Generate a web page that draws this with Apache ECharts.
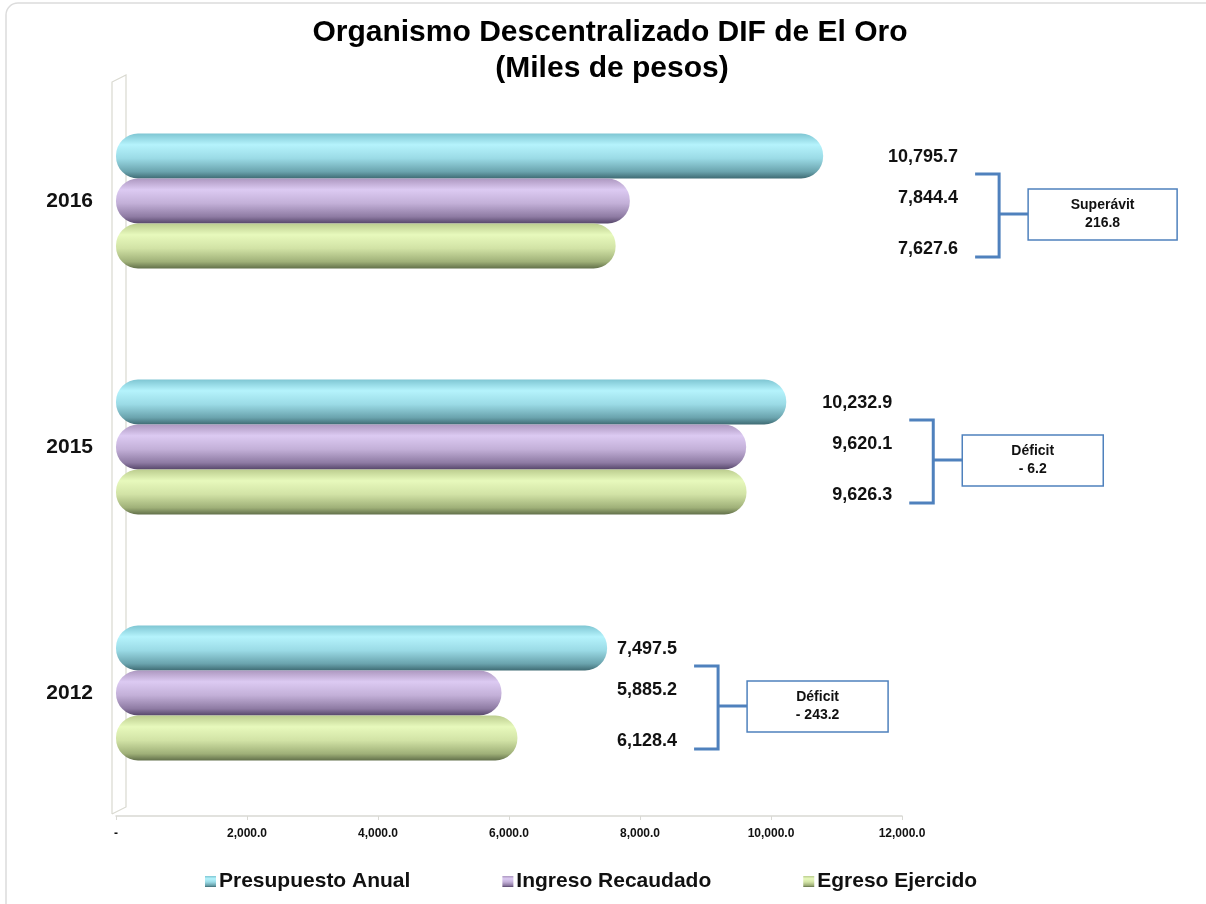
<!DOCTYPE html>
<html><head><meta charset="utf-8">
<script src="https://cdn.jsdelivr.net/npm/echarts@6/dist/echarts.min.js"></script>
<style>html,body{margin:0;padding:0;background:#fff}#c{width:1206px;height:904px}</style>
</head><body><div id="c"></div>
<script>
// ---- data ----
const categories = ['2012', '2015', '2016'];
const presupuestoAnual = [7497.5, 10232.9, 10795.7];
const ingresoRecaudado = [5885.2, 9620.1, 7844.4];
const egresoEjercido = [6128.4, 9626.3, 7627.6];
const seriesNames = ['Presupuesto Anual', 'Ingreso Recaudado', 'Egreso Ejercido'];
const titleLines = ['Organismo Descentralizado DIF de El Oro', '(Miles de pesos)'];
const axisMin = 0, axisMax = 12000, axisStep = 2000;

// ---- layout / style ----
const FONT = '"Liberation Sans", Arial, sans-serif';
const GRID = { left: 116, top: 78, width: 786, height: 738 };
const labelGap = [70, 106, 135]; // px from longest bar end to labels' right edge, per category
const blue = '#4f81bd';
const gradients = [
  ['#7fc6d3', '#b5f3fc', '#9bdbe6', '#6aa3ad', '#3f6b73'],
  ['#ad98c0', '#dccaf2', '#c3b0d8', '#8e7ba3', '#56466a'],
  ['#bccd8f', '#e7f9bc', '#d2e3a6', '#9fb078', '#62704a']
];
function grad(c) {
  return new echarts.graphic.LinearGradient(0, 0, 0, 1, [
    { offset: 0, color: c[0] }, { offset: 0.25, color: c[1] }, { offset: 0.55, color: c[2] },
    { offset: 0.85, color: c[3] }, { offset: 1, color: c[4] }
  ]);
}
const fmt = v => v.toLocaleString('en-US', { minimumFractionDigits: 1, maximumFractionDigits: 1 });

const allSeries = [presupuestoAnual, ingresoRecaudado, egresoEjercido];
const scale = GRID.width / (axisMax - axisMin);
const groupMax = categories.map((_, i) => Math.max(...allSeries.map(s => s[i])));
const labelDy = [1, -3, 3];

const series = allSeries.map((vals, si) => ({
  name: seriesNames[si],
  type: 'bar',
  barWidth: 45,
  barGap: '0%',
  itemStyle: { color: grad(gradients[si]), borderRadius: 22 },
  label: {
    show: true, position: 'right', distance: 0, align: 'right',
    fontFamily: FONT, fontWeight: 'bold', fontSize: 18, color: '#111',
    formatter: p => fmt(p.value)
  },
  data: vals.map((v, i) => ({
    value: v,
    label: { offset: [labelGap[i] + (groupMax[i] - v) * scale, labelDy[si]] }
  }))
}));

const titleStyle = { fontFamily: FONT, fontWeight: 'bold', fontSize: 30, lineHeight: 30, color: '#000' };

const chart = echarts.init(document.getElementById('c'));
chart.setOption({
  animation: false,
  backgroundColor: '#fff',
  title: [
    { text: titleLines[0], left: 610, textAlign: 'center', top: 18, padding: 0, textStyle: titleStyle },
    { text: titleLines[1], left: 612, textAlign: 'center', top: 54, padding: 0, textStyle: titleStyle }
  ],
  legend: {
    data: seriesNames, left: 200, top: 866, itemGap: 92, itemWidth: 11, itemHeight: 11, icon: 'rect',
    textStyle: { fontFamily: FONT, fontWeight: 'bold', fontSize: 21, color: '#111', padding: [0, 0, 0, -2] }
  },
  grid: { left: GRID.left, top: GRID.top, width: GRID.width, height: GRID.height, containLabel: false },
  xAxis: {
    type: 'value', min: axisMin, max: axisMax, interval: axisStep,
    axisLine: { show: true, lineStyle: { color: '#d9d9d4', width: 1.5 } },
    axisTick: { show: true, length: 4, lineStyle: { color: '#d9d9d4' } },
    splitLine: { show: false },
    axisLabel: {
      margin: 12, fontFamily: FONT, fontWeight: 'bold', fontSize: 12, color: '#111',
      formatter: v => v === 0 ? '-' : fmt(v)
    }
  },
  yAxis: {
    type: 'category', data: categories,
    axisLine: { show: false }, axisTick: { show: false },
    axisLabel: { margin: 23, fontFamily: FONT, fontWeight: 'bold', fontSize: 21, color: '#111' }
  },
  series: series
});

// annotations derived from data
const g = [];
g.push({ type: 'rect', z: -10, shape: { x: 6, y: 3, width: 1220, height: 920, r: 12 },
  style: { fill: 'none', stroke: '#dcdcdc', lineWidth: 1.5 } });
const x0 = chart.convertToPixel({ xAxisIndex: 0 }, 0);
const yTop = GRID.top, yBot = GRID.top + GRID.height;
g.push({ type: 'polyline', z: -5, shape: { points: [[x0 - 4, yBot - 2], [x0 - 4, yTop + 4], [x0 + 10, yTop - 3], [x0 + 10, yBot - 9], [x0 - 4, yBot - 2]] },
  style: { stroke: '#d9d9d0', lineWidth: 1.2, fill: 'none' } });
categories.forEach((cat, i) => {
  const c = chart.convertToPixel({ yAxisIndex: 0 }, cat);
  const R = chart.convertToPixel({ xAxisIndex: 0 }, groupMax[i]) + labelGap[i];
  const diff = Math.round((ingresoRecaudado[i] - egresoEjercido[i]) * 10) / 10;
  const word = diff >= 0 ? 'Superávit' : 'Déficit';
  const valTxt = diff >= 0 ? fmt(diff) : '- ' + fmt(-diff);
  const m = c + 13;
  const bw = diff >= 0 ? 149 : 141;
  g.push({ type: 'polyline', shape: { points: [[R + 17, c - 27], [R + 41, c - 27], [R + 41, c + 56], [R + 17, c + 56]] },
    style: { stroke: blue, lineWidth: 3, fill: 'none' } });
  g.push({ type: 'line', shape: { x1: R + 41, y1: m, x2: R + 70, y2: m }, style: { stroke: blue, lineWidth: 3 } });
  g.push({ type: 'rect', shape: { x: R + 70, y: m - 25, width: bw, height: 51 }, style: { fill: '#fff', stroke: blue, lineWidth: 1.5 } });
  g.push({ type: 'text', x: R + 70 + bw / 2, y: m, style: { text: word + '\n' + valTxt, align: 'center', verticalAlign: 'middle',
    font: 'bold 14px ' + FONT, lineHeight: 18, fill: '#111' } });
});
chart.setOption({ graphic: g });
</script>
</body></html>
